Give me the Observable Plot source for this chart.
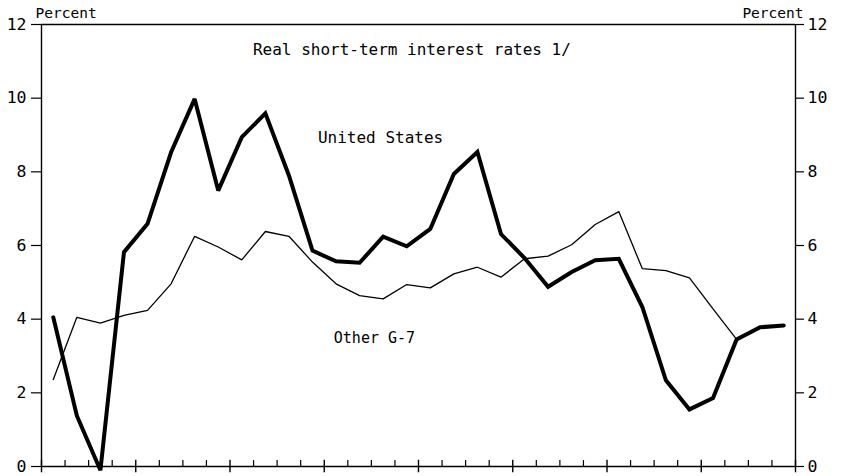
<!DOCTYPE html>
<html>
<head>
<meta charset="utf-8">
<script src="https://cdn.jsdelivr.net/npm/d3@7"></script>
<script src="https://cdn.jsdelivr.net/npm/@observablehq/plot@0.6"></script>
<style>
  html, body { margin: 0; padding: 0; background: white; }
  #chart svg { display: block; }
</style>
</head>
<body>
<div id="chart"></div>
<script>
// Quarterly observations, 32 quarters (8 years)
const unitedStates = [4.05, 1.38, -0.1, 5.82, 6.59, 8.53, 9.98, 7.49, 8.94, 9.59, 7.9, 5.86,
  5.57, 5.53, 6.24, 5.98, 6.45, 7.94, 8.54, 6.31, 5.66, 4.88, 5.28, 5.6,
  5.64, 4.33, 2.34, 1.55, 1.86, 3.45, 3.78, 3.83];
const otherG7 = [2.36, 4.05, 3.89, 4.1, 4.24, 4.96, 6.25, 5.96, 5.61, 6.38, 6.25, 5.55,
  4.96, 4.64, 4.55, 4.94, 4.85, 5.23, 5.41, 5.14, 5.64, 5.71, 6.02, 6.57,
  6.92, 5.37, 5.32, 5.12, 4.28, 3.45, 3.78, 3.83];
const yTicks = [0, 2, 4, 6, 8, 10, 12];
const quarterBounds = d3.range(0, 33);
const yearBounds = quarterBounds.filter(q => q % 4 === 0);
const minorBounds = quarterBounds.filter(q => q % 4 !== 0);

const title = "Real short-term interest rates 1/";
const unitLabel = "Percent";
const seriesNames = ["United States", "Other G-7"];

const usData = unitedStates.map((v, i) => ({q: i + 0.5, v}));
const g7Data = otherG7.map((v, i) => ({q: i + 0.5, v}));

const font = "'DejaVu Sans Mono', monospace";

const chart = Plot.plot({
  width: 845,
  height: 476,
  marginLeft: 41,
  marginRight: 50,
  marginTop: 24,
  marginBottom: 10,
  x: {domain: [0, 32], axis: null},
  y: {domain: [0, 12], axis: null},
  style: {fontFamily: font, fontSize: "16px", background: "white", color: "black", overflow: "visible"},
  marks: [
    Plot.axisY(yTicks, {anchor: "left", tickSize: 10, tickPadding: 5, label: null, fontSize: 16.5, strokeWidth: 1.2}),
    Plot.axisY(yTicks, {anchor: "right", tickSize: 8, tickPadding: 4, label: null, fontSize: 16.5, strokeWidth: 1.2}),
    Plot.ruleX([0, 32], {stroke: "black", strokeWidth: 1.4}),
    Plot.ruleY([0, 12], {stroke: "black", strokeWidth: 1.4}),
    Plot.ruleX(minorBounds, {y1: 0, y2: 0.16, stroke: "black", strokeWidth: 1.2}),
    Plot.ruleX(yearBounds, {y1: -0.17, y2: 0.17, stroke: "black", strokeWidth: 1.4}),
    Plot.line(g7Data, {x: "q", y: "v", stroke: "black", strokeWidth: 1.3, strokeLinejoin: "miter", clip: false}),
    Plot.line(usData, {x: "q", y: "v", stroke: "black", strokeWidth: 4, strokeLinejoin: "miter", strokeMiterlimit: 3, clip: false}),
    Plot.text([title], {x: 15.72, y: 11.3, text: d => d, fontSize: 16, textAnchor: "middle"}),
    Plot.text([seriesNames[0]], {x: 14.39, y: 8.91, text: d => d, fontSize: 16, textAnchor: "middle"}),
    Plot.text([seriesNames[1]], {x: 14.13, y: 3.48, text: d => d, fontSize: 15, textAnchor: "middle"}),
    Plot.text([unitLabel], {x: 0, y: 12, dx: -6, dy: -11, text: d => d, fontSize: 14.5, letterSpacing: "1.6px", textAnchor: "start"}),
    Plot.text([unitLabel], {x: 32, y: 12, dx: 8, dy: -11, text: d => d, fontSize: 14.5, letterSpacing: "1.6px", textAnchor: "end"})
  ]
});
document.getElementById("chart").appendChild(chart);
</script>
</body>
</html>
